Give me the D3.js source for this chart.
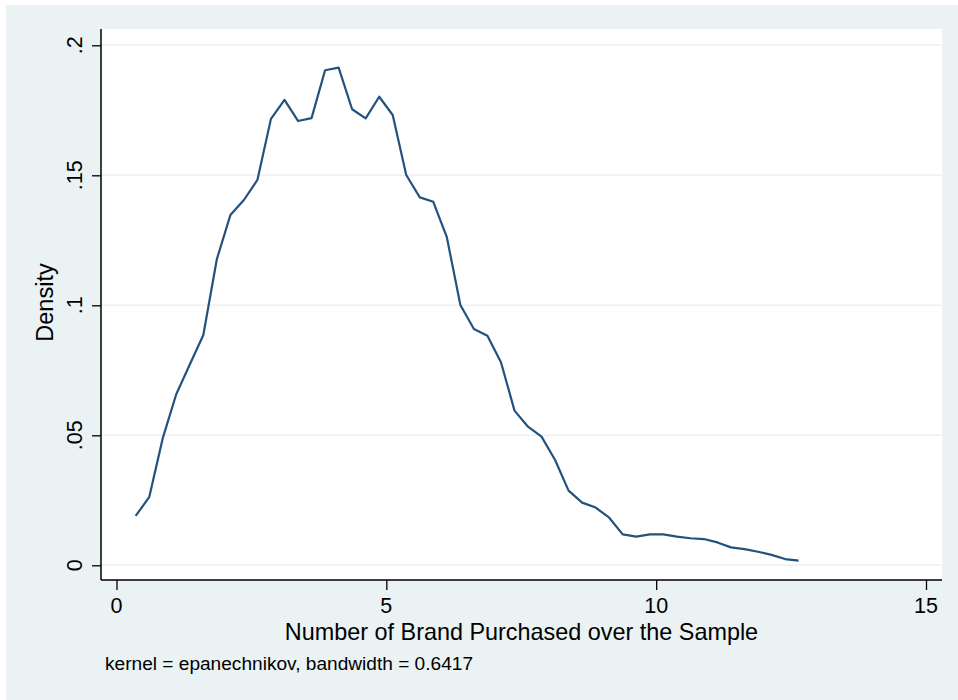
<!DOCTYPE html>
<html>
<head>
<meta charset="utf-8">
<script src="https://cdn.jsdelivr.net/npm/d3@7"></script>
<style>
  body { margin: 0; background: #fff; }
  text { font-family: "Liberation Sans", Arial, Helvetica, sans-serif; fill: #000; }
</style>
</head>
<body>
<div id="c1"></div>
<script>
// Data: kernel density estimate (50 points)
var xValues = [0.355, 0.606, 0.856, 1.107, 1.358, 1.609, 1.859, 2.110, 2.361, 2.611,
               2.862, 3.113, 3.363, 3.614, 3.865, 4.116, 4.366, 4.617, 4.868, 5.118,
               5.369, 5.620, 5.870, 6.121, 6.372, 6.623, 6.873, 7.124, 7.375, 7.625,
               7.876, 8.127, 8.377, 8.628, 8.879, 9.130, 9.380, 9.631, 9.882, 10.132,
               10.383, 10.634, 10.884, 11.135, 11.386, 11.637, 11.887, 12.138, 12.389, 12.639];
var densityValues = [0.0190, 0.0262, 0.0488, 0.0658, 0.0772, 0.0886, 0.1177, 0.1347, 0.1405, 0.1482,
                     0.1717, 0.1790, 0.1709, 0.1720, 0.1904, 0.1914, 0.1754, 0.1719, 0.1802, 0.1732,
                     0.1501, 0.1415, 0.1398, 0.1262, 0.1001, 0.0909, 0.0883, 0.0781, 0.0595, 0.0533,
                     0.0495, 0.0405, 0.0287, 0.0241, 0.0222, 0.0183, 0.0119, 0.0110, 0.0119, 0.0119,
                     0.0110, 0.0104, 0.0101, 0.0088, 0.0069, 0.0062, 0.0052, 0.0040, 0.0024, 0.0018];
var xTicks = [0, 5, 10, 15];
var yTicks = [0, 0.05, 0.1, 0.15, 0.2];
var yTickLabels = ["0", ".05", ".1", ".15", ".2"];
var xTitle = "Number of Brand Purchased over the Sample";
var yTitle = "Density";
var note = "kernel = epanechnikov, bandwidth = 0.6417";

var w = 958, h = 700;
var plot = { left: 101, right: 942, top: 29, bottom: 580 };

var svg = d3.select("#c1").append("svg")
    .attr("width", w)
    .attr("height", h);

// Outer background
svg.append("rect")
    .attr("x", 6).attr("y", 5)
    .attr("width", w - 6).attr("height", h - 5)
    .attr("fill", "#eaf2f3");

// Plot region
svg.append("rect")
    .attr("x", plot.left).attr("y", plot.top)
    .attr("width", plot.right - plot.left).attr("height", plot.bottom - plot.top)
    .attr("fill", "#ffffff");

var x = d3.scaleLinear().domain([0, 15]).range([116.5, 926]);
var y = d3.scaleLinear().domain([0, 0.2]).range([565.3, 45.3]);

// Gridlines
svg.append("g")
    .selectAll("line")
    .data(yTicks)
    .enter()
    .append("line")
    .attr("x1", plot.left).attr("x2", plot.right)
    .attr("y1", function (d) { return y(d); })
    .attr("y2", function (d) { return y(d); })
    .attr("stroke", "#eaf2f3")
    .attr("stroke-width", 1.5);

// Y axis
var yAxis = svg.append("g")
    .attr("transform", "translate(" + plot.left + ",0)")
    .call(d3.axisLeft(y).tickValues(yTicks).tickSize(9).tickFormat(""));
yAxis.select(".domain").attr("d", "M0," + plot.top + "V" + plot.bottom)
    .attr("stroke", "#000").attr("stroke-width", 1.5);
yAxis.selectAll(".tick line").attr("stroke", "#000").attr("stroke-width", 1.3);

svg.append("g")
    .selectAll("text")
    .data(yTicks)
    .enter()
    .append("text")
    .attr("transform", function (d) { return "translate(82," + y(d) + ") rotate(-90)"; })
    .attr("text-anchor", "middle")
    .attr("font-size", "21.5px")
    .text(function (d, i) { return yTickLabels[i]; });

// X axis
var xAxis = svg.append("g")
    .attr("transform", "translate(0," + plot.bottom + ")")
    .call(d3.axisBottom(x).tickValues(xTicks).tickSize(10).tickFormat(""));
xAxis.select(".domain").attr("d", "M" + plot.left + ",0H" + plot.right)
    .attr("stroke", "#000").attr("stroke-width", 1.5);
xAxis.selectAll(".tick line").attr("stroke", "#000").attr("stroke-width", 1.3);

svg.append("g")
    .selectAll("text")
    .data(xTicks)
    .enter()
    .append("text")
    .attr("x", function (d) { return x(d); })
    .attr("y", 613)
    .attr("text-anchor", "middle")
    .attr("font-size", "21.5px")
    .text(function (d) { return d; });

// Titles
svg.append("text")
    .attr("x", (plot.left + plot.right) / 2)
    .attr("y", 640)
    .attr("text-anchor", "middle")
    .attr("font-size", "23.4px")
    .text(xTitle);

svg.append("text")
    .attr("transform", "translate(53," + ((plot.top + plot.bottom) / 2 - 2) + ") rotate(-90)")
    .attr("text-anchor", "middle")
    .attr("font-size", "23.5px")
    .text(yTitle);

svg.append("text")
    .attr("x", 105)
    .attr("y", 670)
    .attr("font-size", "19.1px")
    .text(note);

// Density line
var line = d3.line()
    .x(function (d) { return x(d[0]); })
    .y(function (d) { return y(d[1]); });

svg.append("path")
    .datum(xValues.map(function (v, i) { return [v, densityValues[i]]; }))
    .attr("d", line)
    .attr("fill", "none")
    .attr("stroke", "#22527e")
    .attr("stroke-width", 2.2)
    .attr("stroke-linejoin", "round");
</script>
</body>
</html>
